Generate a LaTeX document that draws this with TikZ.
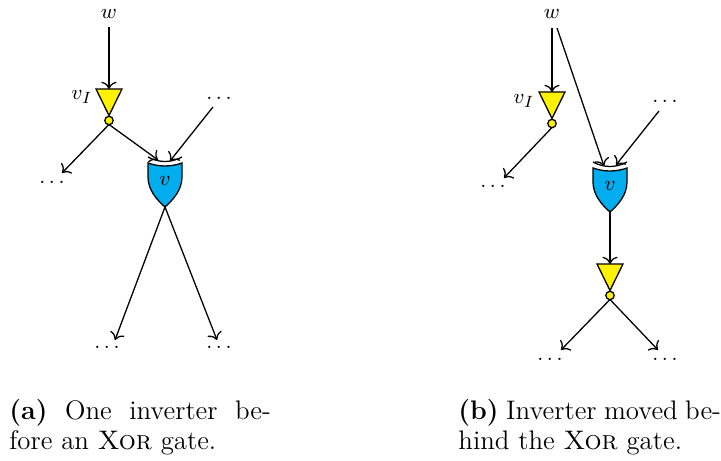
\documentclass[tikz,border=0pt]{standalone}
\usetikzlibrary{arrows.meta}
\definecolor{xorblue}{HTML}{00AEEF}
\tikzset{
  wire/.style={-{To[scale=1.1]},line width=0.55pt},
  invbody/.style={draw,fill=yellow,line width=0.55pt,line join=miter},
  bubble/.style={draw,fill=yellow,circle,inner sep=0pt,minimum size=3.6pt,line width=0.55pt},
  xorbody/.style={draw,fill=xorblue,line width=0.55pt},
  xorback/.style={draw,line width=0.55pt},
  lab/.style={inner sep=0pt,font=\fontsize{9.5}{11}\selectfont},
  capt/.style={inner sep=0pt,anchor=north west,align=left,font=\fontsize{11.5}{12.9}\selectfont}
}
\newcommand{\invgate}[3]{% name, x, top y
  \coordinate (#1in) at (#2,#3);
  \path[invbody] (#2-13,#3) -- (#2+13,#3) -- (#2,#3+26.5) -- cycle;
  \node[bubble] (#1b) at (#2,#3+31.5) {};
  \coordinate (#1out) at (#2,#3+35.5);
}
\newcommand{\xorgate}[3]{% name, x, top y of body corners
  \path[xorbody] (#2-17,#3) .. controls (#2-6,#3+4) and (#2+6,#3+4) .. (#2+17,#3)
    -- (#2+17,#3+14) .. controls (#2+17,#3+27) and (#2+8,#3+37) .. (#2,#3+44)
    .. controls (#2-8,#3+37) and (#2-17,#3+27) .. (#2-17,#3+14) -- cycle;
  \path[xorback] (#2-17,#3-6) .. controls (#2-6,#3) and (#2+6,#3) .. (#2+17,#3-6);
  \node[lab] (#1) at (#2,#3+18) {$v$};
  \coordinate (#1out) at (#2,#3+44);
}
\begin{document}
\begin{tikzpicture}[x=0.42857pt,y=-0.42857pt]
\useasboundingbox (0,0) rectangle (721,461);
% --- (a)
\node[lab] (wa) at (109,14) {$w$};
\coordinate (wao) at (109,27);
\invgate{ia}{109}{89}
\node[lab] (via) at (82,97) {$v_I$};
\xorgate{xa}{165}{163}
\node[lab] (da1) at (52,182) {$\dots$};
\node[lab] (da2) at (219,98) {$\dots$};
\node[lab] (da3) at (107,347) {$\dots$};
\node[lab] (da4) at (219,347) {$\dots$};
\coordinate (da1t) at (62,173);
\coordinate (da2b) at (213,107);
\coordinate (da3t) at (115,340);
\coordinate (da4t) at (217,340);
\coordinate (xa1) at (158,160);
\coordinate (xa2) at (170,161);
\draw[wire] (wao) -- (iain);
\draw[wire] (iaout) -- (da1t);
\draw[wire] (iaout) -- (xa1);
\draw[wire] (da2b) -- (xa2);
\draw[wire] (xaout) -- (da3t);
\draw[wire] (xaout) -- (da4t);
% --- (b)
\node[lab] (wb) at (552,14) {$w$};
\coordinate (wbo1) at (552,28);
\coordinate (wbo2) at (557,28);
\invgate{ib}{552}{92}
\node[lab] (vib) at (524,101) {$v_I$};
\xorgate{xb}{610}{168}
\invgate{ic}{610}{264}
\node[lab] (db1) at (493,186) {$\dots$};
\node[lab] (db2) at (665,101) {$\dots$};
\node[lab] (db3) at (550,359) {$\dots$};
\node[lab] (db4) at (665,359) {$\dots$};
\coordinate (db1t) at (504,178);
\coordinate (db2b) at (659,111);
\coordinate (db3t) at (561,350);
\coordinate (db4t) at (658,350);
\coordinate (xb1) at (604,166);
\coordinate (xb2) at (616,165);
\draw[wire] (wbo1) -- (ibin);
\draw[wire] (wbo2) -- (xb1);
\draw[wire] (ibout) -- (db1t);
\draw[wire] (db2b) -- (xb2);
\draw[wire] (xbout) -- (icin);
\draw[wire] (icout) -- (db3t);
\draw[wire] (icout) -- (db4t);
% --- captions
\node[capt] (capa) at (9,399) {\makebox[112pt][s]{\textbf{(a)} One inverter be-}\\fore an \textsc{Xor} gate.};
\node[capt] (capb) at (458,399) {\makebox[112.5pt][s]{\textbf{(b)} Inverter moved be-}\\hind the \textsc{Xor} gate.};
\end{tikzpicture}
\end{document}
